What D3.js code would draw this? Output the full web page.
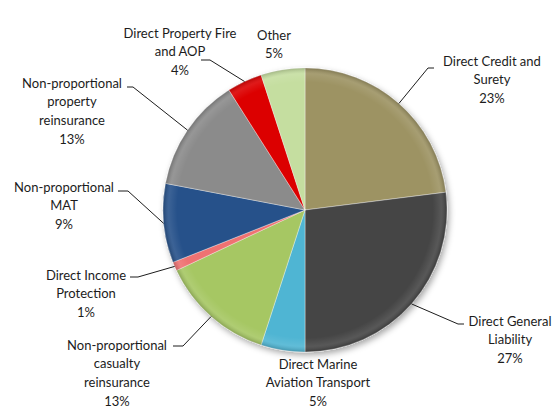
<!DOCTYPE html>
<html>
<head>
<meta charset="utf-8">
<script src="https://cdn.jsdelivr.net/npm/d3@7/dist/d3.min.js"></script>
<style>
  html, body { margin: 0; padding: 0; background: #fff; }
  svg { display: block; }
  .lbl { font-family: Lato, "Liberation Sans", sans-serif; font-size: 13px; fill: #1c1c1c; }
</style>
</head>
<body>
<svg id="chart" width="560" height="408"></svg>
<script>
// Share of premiums by line of business (%), clockwise from 12 o'clock
const categories = [
  "Direct Credit and\nSurety",
  "Direct General\nLiability",
  "Direct Marine\nAviation Transport",
  "Non-proportional\ncasualty\nreinsurance",
  "Direct Income\nProtection",
  "Non-proportional\nMAT",
  "Non-proportional\nproperty\nreinsurance",
  "Direct Property Fire\nand AOP",
  "Other"
];
const values = [23, 27, 5, 13, 1, 9, 13, 4, 5];
const colors = ["#9d9364", "#454545", "#4fb5d3", "#a6c764", "#ef7272",
                "#25518a", "#8b8b8b", "#dc0000", "#c5dea0"];

// Label placement relative to the pie centre: label centre x, first line y,
// and optional leader elbow / end points.
const labelLayout = [
  { x: 187, y: -149, elbow: [123, -142], end: [129, -142] },
  { x: 205, y: 111, elbow: [153, 114], end: [159, 114] },
  { x: 13, y: 154 },
  { x: -188, y: 135, elbow: [-122, 136], end: [-132, 136] },
  { x: -219, y: 65, elbow: [-167, 67], end: [-175, 67] },
  { x: -241, y: -23, elbow: [-177, -19], end: [-187, -19] },
  { x: -233, y: -127, elbow: [-172, -123], end: [-178, -123] },
  { x: -125, y: -177, elbow: [-95, -150], end: [-104, -150] },
  { x: -31, y: -175 }
];

const W = 560, H = 408;
const cx = 305, cy = 210, R = 142;
const lineH = 18.7;

const svg = d3.select("#chart");
const defs = svg.append("defs");

const shadow = defs.append("filter").attr("id", "shadow")
  .attr("x", "-20%").attr("y", "-20%").attr("width", "140%").attr("height", "140%");
shadow.append("feDropShadow").attr("dx", 2).attr("dy", 3)
  .attr("stdDeviation", 3).attr("flood-color", "#000").attr("flood-opacity", 0.35);

const rim = defs.append("radialGradient").attr("id", "rim")
  .attr("cx", "50%").attr("cy", "50%").attr("r", "50%");
rim.append("stop").attr("offset", "0%").attr("stop-color", "#fff").attr("stop-opacity", 0);
rim.append("stop").attr("offset", "90%").attr("stop-color", "#fff").attr("stop-opacity", 0);
rim.append("stop").attr("offset", "96%").attr("stop-color", "#fff").attr("stop-opacity", 0.10);
rim.append("stop").attr("offset", "100%").attr("stop-color", "#000").attr("stop-opacity", 0.18);

const pie = d3.pie().sort(null).value(d => d)
  .startAngle(0).endAngle(2 * Math.PI);
const arcs = pie(values);
const arc = d3.arc().innerRadius(0).outerRadius(R);

const g = svg.append("g").attr("transform", `translate(${cx},${cy})`);

const slices = g.append("g").attr("filter", "url(#shadow)");
slices.selectAll("path.slice")
  .data(arcs)
  .join("path")
  .attr("class", "slice")
  .attr("d", arc)
  .attr("fill", (d, i) => colors[i])
  .attr("stroke", "rgba(255,255,255,0.45)")
  .attr("stroke-width", 0.8)
  .attr("stroke-linejoin", "round");

// soft bevel along the rim
g.append("circle").attr("r", R).attr("fill", "url(#rim)").attr("pointer-events", "none");

// leader lines from the middle of each slice's outer edge
const edge = d3.arc().innerRadius(R).outerRadius(R);
arcs.forEach((a, i) => {
  const L = labelLayout[i];
  if (!L.elbow) return;
  const p = edge.centroid(a);
  g.append("polyline")
    .attr("points", [p, L.elbow, L.end].map(q => q.join(",")).join(" "))
    .attr("fill", "none")
    .attr("stroke", "#1c1c1c")
    .attr("stroke-width", 1);
});

// labels: category name and percentage
arcs.forEach((a, i) => {
  const L = labelLayout[i];
  const lines = categories[i].split("\n").concat([values[i] + "%"]);
  const t = g.append("text").attr("class", "lbl")
    .attr("text-anchor", "middle");
  lines.forEach((s, k) => {
    t.append("tspan")
      .attr("x", L.x)
      .attr("y", L.y + k * lineH)
      .attr("dy", "0.35em")
      .text(s);
  });
});
</script>
</body>
</html>
